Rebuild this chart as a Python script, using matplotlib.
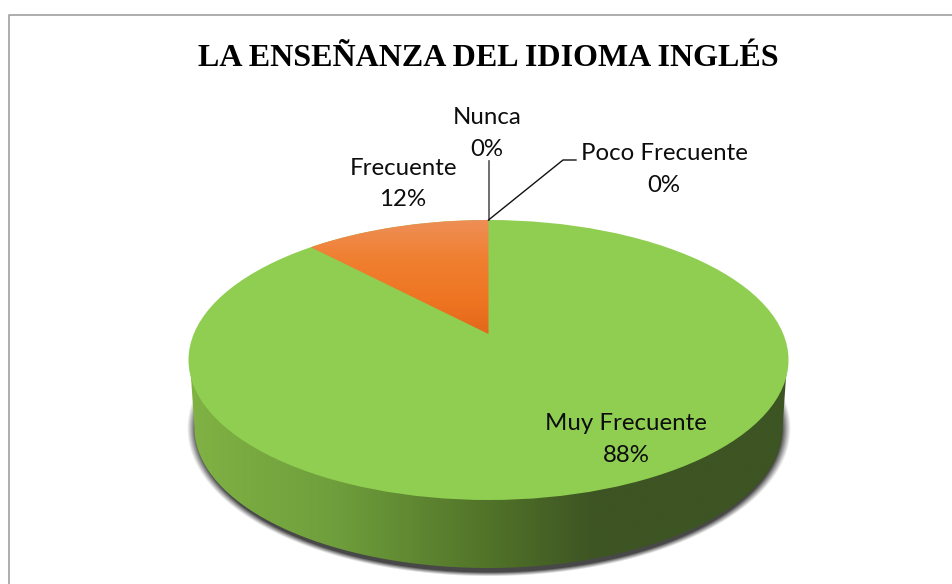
import numpy as np
import matplotlib
matplotlib.use("Agg")
import matplotlib.pyplot as plt
from matplotlib.patches import Polygon, Ellipse

# Datos
categorias = ["Muy Frecuente", "Frecuente", "Poco Frecuente", "Nunca"]
valores = [88, 12, 0, 0]
titulo = "LA ENSEÑANZA DEL IDIOMA INGLÉS"

fig = plt.figure(figsize=(9.52, 5.84), dpi=100)
ax = fig.add_axes([0, 0, 1, 1])

# geometria del pastel, en pixeles
cx, cy = 488.5, 360
rx, ry = 300, 140
prof = 68
vertice_y = 334


def proyecta(ang):
    # angulo en grados desde arriba, sentido antihorario; perspectiva simple
    c = cy - vertice_y
    k = 2 * c / (2 * ry)
    u = -np.sin(np.radians(ang))
    v = np.cos(np.radians(ang))
    w = 1 + k * v
    a = rx * np.sqrt(1 - (c / ry) ** 2)
    return cx + a * u / w, cy - (ry * v + c) / w


def gradiente(stops, extent, vertical=False):
    n = 256
    pos = [s[0] for s in stops]
    cols = np.array([matplotlib.colors.to_rgb(s[1]) for s in stops])
    t = np.linspace(0, 1, n)
    img = np.stack([np.interp(t, pos, cols[:, i]) for i in range(3)], axis=-1)
    img = img[:, None, :] if vertical else img[None, :, :]
    return ax.imshow(img, extent=extent, origin="upper", aspect="auto", interpolation="bilinear")


# sombra
yy, xx = np.mgrid[380:584, 170:810]
d = np.sqrt(((xx - cx) / 302) ** 2 + ((yy - (cy + prof)) / 148) ** 2)
alfa = np.clip((1 - d) / 0.03, 0, 1) ** 1.1 * 0.9
sombra = np.zeros(d.shape + (4,))
sombra[..., :3] = 0.2
sombra[..., 3] = alfa
ax.imshow(sombra, extent=(170, 810, 584, 380), aspect="auto", interpolation="bilinear", zorder=1)

# pared lateral
t = np.linspace(180, 360, 200)
x_inf = cx + 294 * np.cos(np.radians(t))
y_inf = cy + prof - 140 * np.sin(np.radians(t))
pared = Polygon(np.r_[[[cx - 298, cy + 10]], np.c_[x_inf, y_inf], [[cx + 298, cy + 10]], [[cx, cy]]],
                closed=True, fc="none", ec="none", zorder=2)
ax.add_patch(pared)
im = gradiente([(0, "#80b244"), (0.24, "#6f9f3c"), (0.5, "#517329"), (0.68, "#3d5423"), (1, "#3d5423")],
               (188, 789, 584, 340))
im.set_zorder(2)
im.set_clip_path(pared)

# cara superior
ax.add_patch(Ellipse((cx, cy), 2 * rx, 2 * ry, fc="#8fce50", ec="none", zorder=3))

# porciones desde los valores (Frecuente va antes de las 12, antihorario)
total = sum(valores)
ang_frec = 360 * valores[1] / total
arco = np.linspace(0, ang_frec, 60)
px, py = proyecta(arco)
frec = Polygon(np.r_[[[cx, vertice_y]], np.c_[px, py]], closed=True, fc="none", ec="none", zorder=4)
ax.add_patch(frec)
im2 = gradiente([(0, "#ee8f57"), (0.35, "#f07f30"), (0.7, "#ee7522"), (1, "#e4661a")],
                (300, 490, 335, 219), vertical=True)
im2.set_zorder(4)
im2.set_clip_path(frec)

# lineas guia
ax.plot([488.5, 488.5], [161, 220], color="#555555", lw=1.2, zorder=5)
ax.plot([488.5, 563, 576], [220, 160, 160], color="#111111", lw=1.0, zorder=5)

# marco
ax.plot([8.5, 8.5, 952], [584, 14.5, 14.5], color="#a0a0a0", lw=1.2, zorder=6)

# textos
fuente = "Lato"
tam = 17.3
etiquetas = [
    (626, 423.5, categorias[0]), (626, 455.5, f"{valores[0]}%"),
    (403, 168.5, categorias[1]), (403, 199.5, f"{valores[1]}%"),
    (664, 153.5, categorias[2]), (664, 185.5, f"{valores[2]}%"),
    (487, 117.5, categorias[3]), (487, 149.5, f"{valores[3]}%"),
]
for x, y, s in etiquetas:
    ax.text(x, y, s, ha="center", va="center", family=fuente, fontsize=tam, color="#0d0d0d", zorder=7)

ax.text(488.5, 58.5, titulo, ha="center", va="center", family="Liberation Serif", fontweight="bold",
        fontsize=23, color="black", zorder=7)

ax.set_xlim(0, 952)
ax.set_ylim(584, 0)
ax.axis("off")
fig.savefig("out.png", dpi=100, facecolor="white")
